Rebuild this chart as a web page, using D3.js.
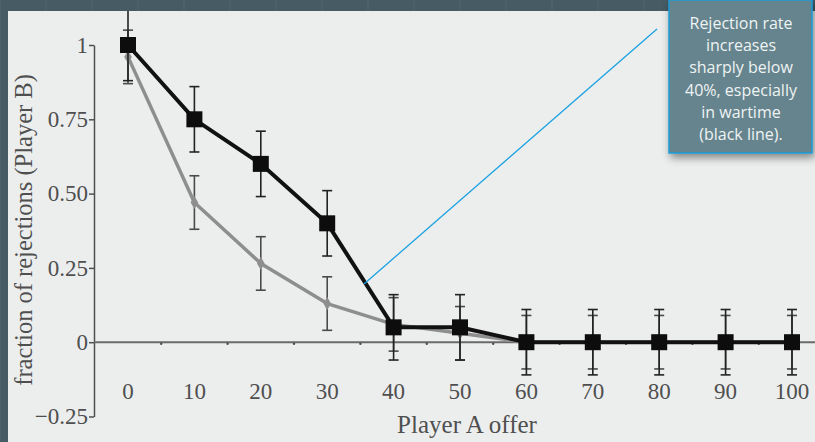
<!DOCTYPE html>
<html>
<head>
<meta charset="utf-8">
<script src="https://cdn.jsdelivr.net/npm/d3@7"></script>
<style>
  body { margin: 0; background: #465b64; }
  svg { display: block; }
</style>
</head>
<body>
<div id="chartArea"></div>
<script>
// data
const offers = [0, 10, 20, 30, 40, 50, 60, 70, 80, 90, 100];
const warMean = [1.0, 0.75, 0.60, 0.40, 0.05, 0.05, 0, 0, 0, 0, 0];
const warErr  = [0.12, 0.11, 0.11, 0.11, 0.11, 0.11, 0.11, 0.11, 0.11, 0.11, 0.11];
const peaceMean = [0.96, 0.47, 0.265, 0.13, 0.06, 0.03, 0, 0, 0, 0, 0];
const peaceErr  = [0.09, 0.09, 0.09, 0.09, 0.09, 0.09, 0.09, 0.09, 0.09, 0.09, 0.09];
const yTicks = [-0.25, 0, 0.25, 0.5, 0.75, 1];
const yTickLabels = ["\u22120.25", "0", "0.25", "0.50", "0.75", "1"];
const noteLines = ["Rejection rate", "increases", "sharply below", "40%, especially", "in wartime", "(black line)."];

const W = 815, H = 442;
const dark = "#465b64";
const paper = "#eceeee";
const axisGrey = "#4f4f4f";
const serif = "'Liberation Serif', 'DejaVu Serif', serif";

const svg = d3.select("#chartArea").append("svg")
  .attr("width", W)
  .attr("height", H);

// slide background with faint texture grid
svg.append("rect").attr("width", W).attr("height", H).attr("fill", dark);
svg.selectAll("line.bg")
  .data(d3.range(0, W, 46))
  .enter().append("line")
    .attr("x1", d => d).attr("x2", d => d)
    .attr("y1", 0).attr("y2", H)
    .attr("stroke", "#52666f").attr("stroke-width", 1);

// the pasted chart picture
svg.append("rect")
  .attr("x", 8).attr("y", 11)
  .attr("width", W - 8).attr("height", H - 11)
  .attr("fill", paper);

const x = d3.scaleLinear().domain([0, 100]).range([128, 792]);
const y = d3.scaleLinear().domain([-0.25, 1]).range([416.5, 45]);

const defs = svg.append("defs");
defs.append("clipPath").attr("id", "pic")
  .append("rect").attr("x", 8).attr("y", 11).attr("width", W - 8).attr("height", H - 11);

const g = svg.append("g").attr("clip-path", "url(#pic)");

// y axis (ticks pointing left)
const yAxis = d3.axisLeft(y).tickValues(yTicks)
  .tickFormat((d, i) => yTickLabels[i]).tickSize(5).tickSizeOuter(0);
const ya = g.append("g").attr("transform", "translate(94,0)").call(yAxis);
ya.select(".domain").attr("stroke", axisGrey).attr("stroke-width", 1.5);
ya.selectAll(".tick line").attr("stroke", axisGrey).attr("stroke-width", 1.5);
ya.selectAll(".tick text")
  .attr("font-family", serif)
  .attr("font-size", 23).attr("fill", axisGrey).attr("x", -6);

// x axis along zero
g.append("line")
  .attr("x1", 94).attr("x2", W).attr("y1", y(0)).attr("y2", y(0))
  .attr("stroke", "#6a6a6a").attr("stroke-width", 2);
g.selectAll("circle.minor")
  .data(d3.range(5, 100, 10))
  .enter().append("circle")
    .attr("cx", d => x(d)).attr("cy", y(0) + 1.5).attr("r", 1.2)
    .attr("fill", axisGrey);
g.selectAll("text.xlab")
  .data(offers)
  .enter().append("text")
    .attr("x", d => x(d)).attr("y", 399)
    .attr("text-anchor", "middle")
    .attr("font-family", serif)
    .attr("font-size", 23).attr("fill", axisGrey)
    .text(d => d);

g.append("text")
  .attr("x", 467).attr("y", 433)
  .attr("text-anchor", "middle")
  .attr("font-family", serif)
  .attr("font-size", 25).attr("fill", axisGrey)
  .text("Player A offer");

g.append("text")
  .attr("transform", "translate(32,230) rotate(-90)")
  .attr("text-anchor", "middle")
  .attr("font-family", serif)
  .attr("font-size", 24.5).attr("fill", axisGrey)
  .text("fraction of rejections (Player B)");

function errorBars(means, errs, colour, width) {
  const eb = g.append("g");
  offers.forEach((o, i) => {
    const cx = x(o), lo = y(means[i] - errs[i]), hi = y(means[i] + errs[i]);
    eb.append("line").attr("x1", cx).attr("x2", cx).attr("y1", lo).attr("y2", hi)
      .attr("stroke", colour).attr("stroke-width", width);
    [lo, hi].forEach(v => eb.append("line")
      .attr("x1", cx - 5).attr("x2", cx + 5).attr("y1", v).attr("y2", v)
      .attr("stroke", colour).attr("stroke-width", width));
  });
}

// peacetime series (grey)
errorBars(peaceMean, peaceErr, "#4a4a4a", 1.6);
const peaceLine = d3.line()
  .x((d, i) => x(offers[i])).y(d => y(d));
g.append("path").datum(peaceMean)
  .attr("d", peaceLine)
  .attr("fill", "none").attr("stroke", "#8e8e8e").attr("stroke-width", 3.5)
  .attr("stroke-linejoin", "round");
g.selectAll("path.pm")
  .data(peaceMean)
  .enter().append("path")
    .attr("d", d3.symbol().type(d3.symbolDiamond).size(50))
    .attr("transform", (d, i) => `translate(${x(offers[i])},${y(d)})`)
    .attr("fill", "#8e8e8e");

// wartime series (black)
errorBars(warMean, warErr, "#222", 1.6);
const warLine = d3.line().x((d, i) => x(offers[i])).y(d => y(d));
g.append("path").datum(warMean)
  .attr("d", warLine)
  .attr("fill", "none").attr("stroke", "#111").attr("stroke-width", 4);
g.selectAll("rect.wm")
  .data(warMean)
  .enter().append("rect")
    .attr("x", (d, i) => x(offers[i]) - 8).attr("y", d => y(d) - 8)
    .attr("width", 16).attr("height", 16)
    .attr("fill", "#0d0d0d");

// callout connector
svg.append("line")
  .attr("x1", 657).attr("y1", 29).attr("x2", 364).attr("y2", 284)
  .attr("stroke", "#1ba1e2").attr("stroke-width", 1.3);

// callout box with shadow
const f = defs.append("filter").attr("id", "shadow")
  .attr("x", "-20%").attr("y", "-20%").attr("width", "150%").attr("height", "150%");
f.append("feDropShadow").attr("dx", 2).attr("dy", 4).attr("stdDeviation", 4)
  .attr("flood-color", "#000").attr("flood-opacity", 0.45);

svg.append("rect")
  .attr("x", 669).attr("y", 0).attr("width", 143).attr("height", 153)
  .attr("fill", "#66848d").attr("stroke", "#1e9ad6").attr("stroke-width", 1.5)
  .attr("filter", "url(#shadow)");

svg.append("g").selectAll("text")
  .data(noteLines)
  .enter().append("text")
    .attr("x", 741).attr("y", (d, i) => 29 + i * 22.2)
    .attr("text-anchor", "middle")
    .attr("font-family", "'Open Sans', Lato, sans-serif")
    .attr("font-size", 16).attr("fill", "#eef3f4")
    .text(d => d);
</script>
</body>
</html>
